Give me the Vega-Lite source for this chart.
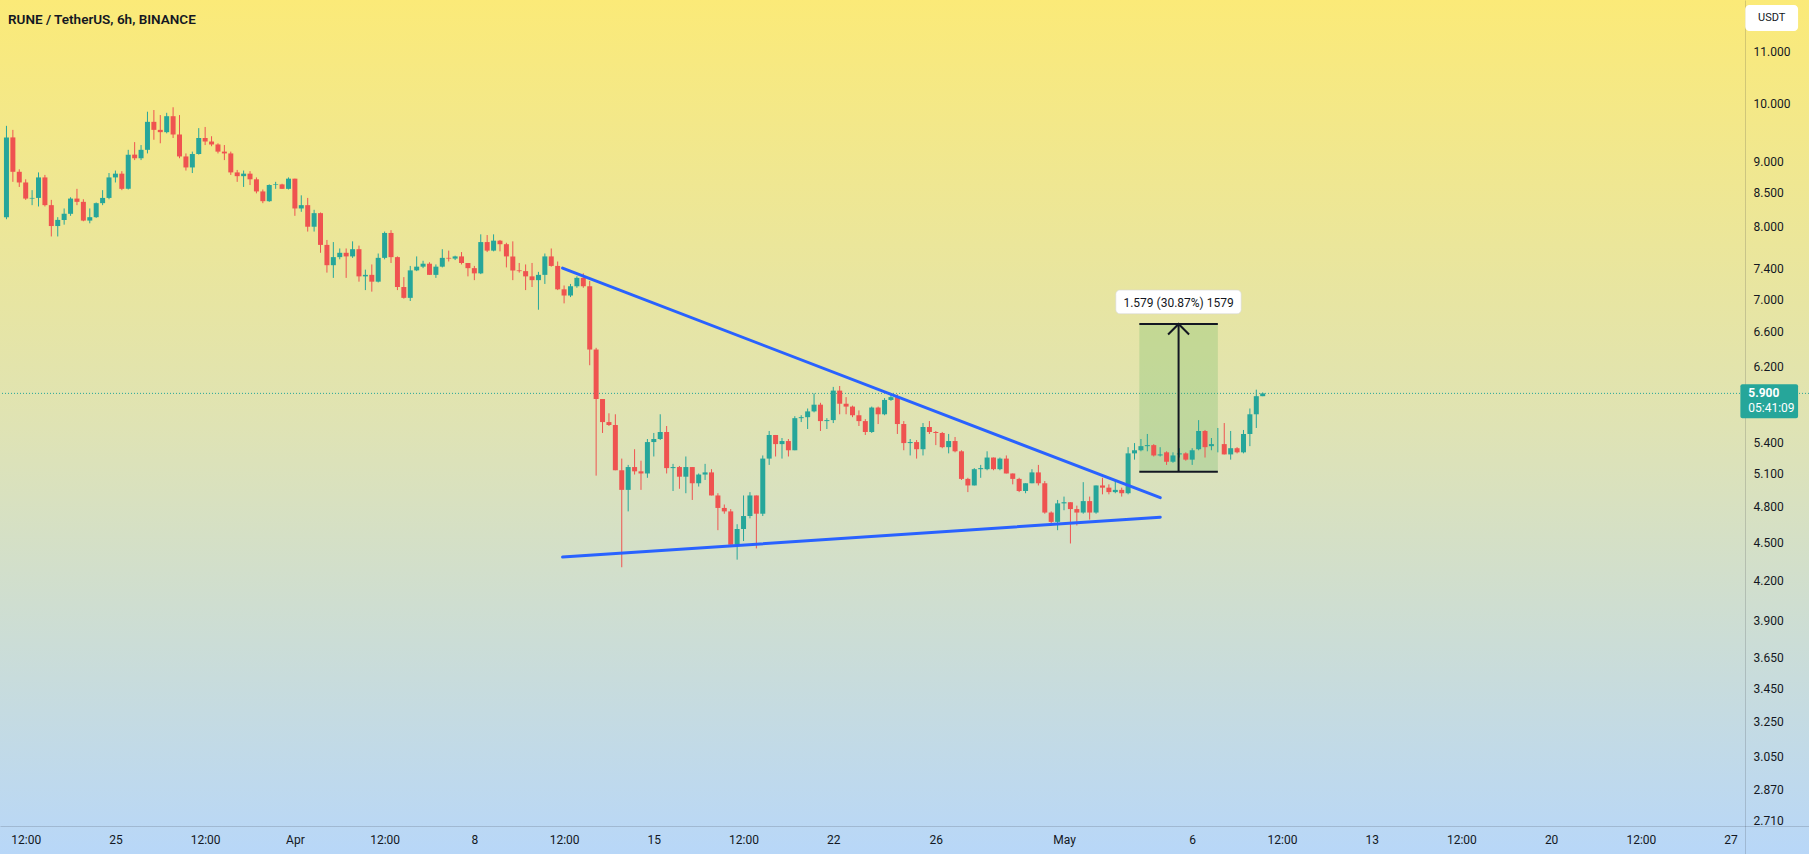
{
  "$schema": "https://vega.github.io/schema/vega-lite/v6.json",
  "width": 1809,
  "height": 854,
  "autosize": {"type": "none"},
  "padding": 0,
  "title": {"text": "RUNE / TetherUS, 6h, BINANCE", "anchor": "start", "frame": "group", "offset": -26, "dx": 8, "fontSize": 13.5, "fontWeight": 600, "color": "#131722", "font": "Roboto"},
  "config": {
    "font": "Roboto",
    "view": {"stroke": null, "fill": {"gradient": "linear", "x1": 0, "y1": 0, "x2": 0, "y2": 1, "stops": [{"offset": 0, "color": "#fbea78"}, {"offset": 0.5, "color": "#dfe3b4"}, {"offset": 1, "color": "#b8d7f8"}]}}
  },
  "datasets": {
    "candles": [
      {"t":"2024-03-20T18:00Z","o":8.13,"h":9.6,"l":8.1,"c":9.4},
      {"t":"2024-03-21T00:00Z","o":9.4,"h":9.53,"l":8.67,"c":8.83},
      {"t":"2024-03-21T06:00Z","o":8.83,"h":8.87,"l":8.59,"c":8.66},
      {"t":"2024-03-21T12:00Z","o":8.66,"h":8.71,"l":8.39,"c":8.41},
      {"t":"2024-03-21T18:00Z","o":8.41,"h":8.54,"l":8.31,"c":8.42},
      {"t":"2024-03-22T00:00Z","o":8.42,"h":8.82,"l":8.29,"c":8.74},
      {"t":"2024-03-22T06:00Z","o":8.74,"h":8.78,"l":8.29,"c":8.31},
      {"t":"2024-03-22T12:00Z","o":8.31,"h":8.39,"l":7.85,"c":8.0},
      {"t":"2024-03-22T18:00Z","o":8.0,"h":8.13,"l":7.85,"c":8.09},
      {"t":"2024-03-23T00:00Z","o":8.09,"h":8.26,"l":8.02,"c":8.18},
      {"t":"2024-03-23T06:00Z","o":8.18,"h":8.43,"l":8.15,"c":8.41},
      {"t":"2024-03-23T12:00Z","o":8.41,"h":8.56,"l":8.31,"c":8.36},
      {"t":"2024-03-23T18:00Z","o":8.36,"h":8.4,"l":8.07,"c":8.08},
      {"t":"2024-03-24T00:00Z","o":8.08,"h":8.26,"l":8.04,"c":8.13},
      {"t":"2024-03-24T06:00Z","o":8.13,"h":8.35,"l":8.12,"c":8.34},
      {"t":"2024-03-24T12:00Z","o":8.34,"h":8.54,"l":8.31,"c":8.42},
      {"t":"2024-03-24T18:00Z","o":8.42,"h":8.81,"l":8.4,"c":8.74},
      {"t":"2024-03-25T00:00Z","o":8.74,"h":8.85,"l":8.66,"c":8.8},
      {"t":"2024-03-25T06:00Z","o":8.8,"h":8.84,"l":8.54,"c":8.56},
      {"t":"2024-03-25T12:00Z","o":8.56,"h":9.19,"l":8.55,"c":9.11},
      {"t":"2024-03-25T18:00Z","o":9.11,"h":9.32,"l":9.02,"c":9.05},
      {"t":"2024-03-26T00:00Z","o":9.05,"h":9.27,"l":9.02,"c":9.19},
      {"t":"2024-03-26T06:00Z","o":9.19,"h":9.85,"l":9.13,"c":9.67},
      {"t":"2024-03-26T12:00Z","o":9.67,"h":9.88,"l":9.36,"c":9.53},
      {"t":"2024-03-26T18:00Z","o":9.53,"h":9.79,"l":9.3,"c":9.49},
      {"t":"2024-03-27T00:00Z","o":9.49,"h":9.83,"l":9.47,"c":9.77},
      {"t":"2024-03-27T06:00Z","o":9.77,"h":9.93,"l":9.39,"c":9.45},
      {"t":"2024-03-27T12:00Z","o":9.45,"h":9.79,"l":9.05,"c":9.08},
      {"t":"2024-03-27T18:00Z","o":9.08,"h":9.13,"l":8.85,"c":8.9},
      {"t":"2024-03-28T00:00Z","o":8.9,"h":9.16,"l":8.81,"c":9.12},
      {"t":"2024-03-28T06:00Z","o":9.12,"h":9.56,"l":9.11,"c":9.39},
      {"t":"2024-03-28T12:00Z","o":9.39,"h":9.58,"l":9.27,"c":9.33},
      {"t":"2024-03-28T18:00Z","o":9.33,"h":9.42,"l":9.25,"c":9.28},
      {"t":"2024-03-29T00:00Z","o":9.28,"h":9.3,"l":9.13,"c":9.16},
      {"t":"2024-03-29T06:00Z","o":9.16,"h":9.27,"l":9.02,"c":9.13},
      {"t":"2024-03-29T12:00Z","o":9.13,"h":9.16,"l":8.78,"c":8.82},
      {"t":"2024-03-29T18:00Z","o":8.82,"h":8.86,"l":8.67,"c":8.76},
      {"t":"2024-03-30T00:00Z","o":8.76,"h":8.85,"l":8.59,"c":8.8},
      {"t":"2024-03-30T06:00Z","o":8.8,"h":8.84,"l":8.62,"c":8.71},
      {"t":"2024-03-30T12:00Z","o":8.71,"h":8.74,"l":8.49,"c":8.52},
      {"t":"2024-03-30T18:00Z","o":8.52,"h":8.55,"l":8.34,"c":8.37},
      {"t":"2024-03-31T00:00Z","o":8.37,"h":8.63,"l":8.36,"c":8.62},
      {"t":"2024-03-31T06:00Z","o":8.62,"h":8.67,"l":8.56,"c":8.63},
      {"t":"2024-03-31T12:00Z","o":8.63,"h":8.64,"l":8.56,"c":8.56},
      {"t":"2024-03-31T18:00Z","o":8.56,"h":8.74,"l":8.55,"c":8.72},
      {"t":"2024-04-01T00:00Z","o":8.72,"h":8.72,"l":8.15,"c":8.26},
      {"t":"2024-04-01T06:00Z","o":8.26,"h":8.46,"l":8.21,"c":8.31},
      {"t":"2024-04-01T12:00Z","o":8.31,"h":8.42,"l":7.92,"c":7.99},
      {"t":"2024-04-01T18:00Z","o":7.99,"h":8.24,"l":7.92,"c":8.19},
      {"t":"2024-04-02T00:00Z","o":8.19,"h":8.2,"l":7.62,"c":7.73},
      {"t":"2024-04-02T06:00Z","o":7.73,"h":7.8,"l":7.35,"c":7.45},
      {"t":"2024-04-02T12:00Z","o":7.45,"h":7.77,"l":7.28,"c":7.56},
      {"t":"2024-04-02T18:00Z","o":7.56,"h":7.68,"l":7.53,"c":7.62},
      {"t":"2024-04-03T00:00Z","o":7.62,"h":7.68,"l":7.28,"c":7.57},
      {"t":"2024-04-03T06:00Z","o":7.57,"h":7.78,"l":7.55,"c":7.67},
      {"t":"2024-04-03T12:00Z","o":7.67,"h":7.72,"l":7.23,"c":7.3},
      {"t":"2024-04-03T18:00Z","o":7.3,"h":7.39,"l":7.12,"c":7.32},
      {"t":"2024-04-04T00:00Z","o":7.32,"h":7.46,"l":7.1,"c":7.23},
      {"t":"2024-04-04T06:00Z","o":7.23,"h":7.61,"l":7.22,"c":7.55},
      {"t":"2024-04-04T12:00Z","o":7.55,"h":7.92,"l":7.53,"c":7.9},
      {"t":"2024-04-04T18:00Z","o":7.9,"h":7.94,"l":7.48,"c":7.56},
      {"t":"2024-04-05T00:00Z","o":7.56,"h":7.57,"l":7.12,"c":7.16},
      {"t":"2024-04-05T06:00Z","o":7.16,"h":7.29,"l":7.01,"c":7.02},
      {"t":"2024-04-05T12:00Z","o":7.02,"h":7.44,"l":6.98,"c":7.38},
      {"t":"2024-04-05T18:00Z","o":7.38,"h":7.57,"l":7.37,"c":7.43},
      {"t":"2024-04-06T00:00Z","o":7.43,"h":7.51,"l":7.41,"c":7.47},
      {"t":"2024-04-06T06:00Z","o":7.47,"h":7.49,"l":7.32,"c":7.32},
      {"t":"2024-04-06T12:00Z","o":7.32,"h":7.46,"l":7.28,"c":7.43},
      {"t":"2024-04-06T18:00Z","o":7.43,"h":7.67,"l":7.42,"c":7.55},
      {"t":"2024-04-07T00:00Z","o":7.55,"h":7.65,"l":7.5,"c":7.54},
      {"t":"2024-04-07T06:00Z","o":7.54,"h":7.58,"l":7.52,"c":7.57},
      {"t":"2024-04-07T12:00Z","o":7.57,"h":7.63,"l":7.46,"c":7.48},
      {"t":"2024-04-07T18:00Z","o":7.48,"h":7.48,"l":7.3,"c":7.41},
      {"t":"2024-04-08T00:00Z","o":7.41,"h":7.44,"l":7.25,"c":7.34},
      {"t":"2024-04-08T06:00Z","o":7.34,"h":7.88,"l":7.33,"c":7.77},
      {"t":"2024-04-08T12:00Z","o":7.77,"h":7.87,"l":7.63,"c":7.65},
      {"t":"2024-04-08T18:00Z","o":7.65,"h":7.88,"l":7.64,"c":7.79},
      {"t":"2024-04-09T00:00Z","o":7.79,"h":7.8,"l":7.64,"c":7.74},
      {"t":"2024-04-09T06:00Z","o":7.74,"h":7.76,"l":7.42,"c":7.57},
      {"t":"2024-04-09T12:00Z","o":7.57,"h":7.78,"l":7.25,"c":7.38},
      {"t":"2024-04-09T18:00Z","o":7.38,"h":7.48,"l":7.35,"c":7.37},
      {"t":"2024-04-10T00:00Z","o":7.37,"h":7.46,"l":7.12,"c":7.3},
      {"t":"2024-04-10T06:00Z","o":7.3,"h":7.48,"l":7.16,"c":7.25},
      {"t":"2024-04-10T12:00Z","o":7.25,"h":7.36,"l":6.87,"c":7.32},
      {"t":"2024-04-10T18:00Z","o":7.32,"h":7.61,"l":7.2,"c":7.57},
      {"t":"2024-04-11T00:00Z","o":7.57,"h":7.68,"l":7.43,"c":7.44},
      {"t":"2024-04-11T06:00Z","o":7.44,"h":7.5,"l":7.12,"c":7.13},
      {"t":"2024-04-11T12:00Z","o":7.13,"h":7.18,"l":6.95,"c":7.05},
      {"t":"2024-04-11T18:00Z","o":7.05,"h":7.2,"l":7.03,"c":7.17},
      {"t":"2024-04-12T00:00Z","o":7.17,"h":7.3,"l":7.15,"c":7.28},
      {"t":"2024-04-12T06:00Z","o":7.28,"h":7.34,"l":7.15,"c":7.17},
      {"t":"2024-04-12T12:00Z","o":7.17,"h":7.24,"l":6.21,"c":6.39},
      {"t":"2024-04-12T18:00Z","o":6.39,"h":6.41,"l":5.08,"c":5.84},
      {"t":"2024-04-13T00:00Z","o":5.84,"h":5.84,"l":5.49,"c":5.6},
      {"t":"2024-04-13T06:00Z","o":5.6,"h":5.69,"l":5.56,"c":5.57},
      {"t":"2024-04-13T12:00Z","o":5.57,"h":5.68,"l":5.13,"c":5.13},
      {"t":"2024-04-13T18:00Z","o":5.13,"h":5.24,"l":4.3,"c":4.95},
      {"t":"2024-04-14T00:00Z","o":4.95,"h":5.18,"l":4.76,"c":5.16},
      {"t":"2024-04-14T06:00Z","o":5.16,"h":5.33,"l":5.09,"c":5.12},
      {"t":"2024-04-14T12:00Z","o":5.12,"h":5.22,"l":4.95,"c":5.1},
      {"t":"2024-04-14T18:00Z","o":5.1,"h":5.43,"l":5.06,"c":5.4},
      {"t":"2024-04-15T00:00Z","o":5.4,"h":5.49,"l":5.26,"c":5.43},
      {"t":"2024-04-15T06:00Z","o":5.43,"h":5.68,"l":5.42,"c":5.5},
      {"t":"2024-04-15T12:00Z","o":5.5,"h":5.56,"l":5.1,"c":5.15},
      {"t":"2024-04-15T18:00Z","o":5.15,"h":5.19,"l":4.94,"c":5.16},
      {"t":"2024-04-16T00:00Z","o":5.16,"h":5.17,"l":4.96,"c":5.07},
      {"t":"2024-04-16T06:00Z","o":5.07,"h":5.26,"l":4.92,"c":5.16},
      {"t":"2024-04-16T12:00Z","o":5.16,"h":5.16,"l":4.86,"c":5.01},
      {"t":"2024-04-16T18:00Z","o":5.01,"h":5.1,"l":4.98,"c":5.09},
      {"t":"2024-04-17T00:00Z","o":5.09,"h":5.19,"l":5.04,"c":5.11},
      {"t":"2024-04-17T06:00Z","o":5.11,"h":5.14,"l":4.9,"c":4.9},
      {"t":"2024-04-17T12:00Z","o":4.9,"h":4.92,"l":4.6,"c":4.79},
      {"t":"2024-04-17T18:00Z","o":4.79,"h":4.82,"l":4.74,"c":4.76},
      {"t":"2024-04-18T00:00Z","o":4.76,"h":4.78,"l":4.48,"c":4.48},
      {"t":"2024-04-18T06:00Z","o":4.48,"h":4.65,"l":4.36,"c":4.61},
      {"t":"2024-04-18T12:00Z","o":4.61,"h":4.9,"l":4.51,"c":4.72},
      {"t":"2024-04-18T18:00Z","o":4.72,"h":4.93,"l":4.7,"c":4.9},
      {"t":"2024-04-19T00:00Z","o":4.9,"h":4.9,"l":4.45,"c":4.74},
      {"t":"2024-04-19T06:00Z","o":4.74,"h":5.27,"l":4.72,"c":5.24},
      {"t":"2024-04-19T12:00Z","o":5.24,"h":5.51,"l":5.18,"c":5.47},
      {"t":"2024-04-19T18:00Z","o":5.47,"h":5.47,"l":5.26,"c":5.38},
      {"t":"2024-04-20T00:00Z","o":5.38,"h":5.44,"l":5.24,"c":5.41},
      {"t":"2024-04-20T06:00Z","o":5.41,"h":5.43,"l":5.26,"c":5.32},
      {"t":"2024-04-20T12:00Z","o":5.32,"h":5.66,"l":5.32,"c":5.64},
      {"t":"2024-04-20T18:00Z","o":5.64,"h":5.67,"l":5.6,"c":5.65},
      {"t":"2024-04-21T00:00Z","o":5.65,"h":5.74,"l":5.53,"c":5.71},
      {"t":"2024-04-21T06:00Z","o":5.71,"h":5.9,"l":5.7,"c":5.78},
      {"t":"2024-04-21T12:00Z","o":5.78,"h":5.8,"l":5.51,"c":5.61},
      {"t":"2024-04-21T18:00Z","o":5.61,"h":5.64,"l":5.53,"c":5.62},
      {"t":"2024-04-22T00:00Z","o":5.62,"h":5.97,"l":5.59,"c":5.93},
      {"t":"2024-04-22T06:00Z","o":5.93,"h":5.98,"l":5.68,"c":5.79},
      {"t":"2024-04-22T12:00Z","o":5.79,"h":5.86,"l":5.68,"c":5.76},
      {"t":"2024-04-22T18:00Z","o":5.76,"h":5.77,"l":5.65,"c":5.67},
      {"t":"2024-04-23T00:00Z","o":5.67,"h":5.72,"l":5.56,"c":5.61},
      {"t":"2024-04-23T06:00Z","o":5.61,"h":5.63,"l":5.47,"c":5.5},
      {"t":"2024-04-23T12:00Z","o":5.5,"h":5.76,"l":5.49,"c":5.75},
      {"t":"2024-04-23T18:00Z","o":5.75,"h":5.76,"l":5.58,"c":5.68},
      {"t":"2024-04-24T00:00Z","o":5.68,"h":5.85,"l":5.67,"c":5.83},
      {"t":"2024-04-24T06:00Z","o":5.83,"h":5.89,"l":5.82,"c":5.86},
      {"t":"2024-04-24T12:00Z","o":5.86,"h":5.89,"l":5.48,"c":5.58},
      {"t":"2024-04-24T18:00Z","o":5.58,"h":5.61,"l":5.32,"c":5.39},
      {"t":"2024-04-25T00:00Z","o":5.39,"h":5.43,"l":5.27,"c":5.4},
      {"t":"2024-04-25T06:00Z","o":5.4,"h":5.42,"l":5.24,"c":5.33},
      {"t":"2024-04-25T12:00Z","o":5.33,"h":5.59,"l":5.27,"c":5.55},
      {"t":"2024-04-25T18:00Z","o":5.55,"h":5.61,"l":5.48,"c":5.5},
      {"t":"2024-04-26T00:00Z","o":5.5,"h":5.51,"l":5.37,"c":5.49},
      {"t":"2024-04-26T06:00Z","o":5.49,"h":5.5,"l":5.34,"c":5.35},
      {"t":"2024-04-26T12:00Z","o":5.35,"h":5.48,"l":5.29,"c":5.41},
      {"t":"2024-04-26T18:00Z","o":5.41,"h":5.45,"l":5.3,"c":5.31},
      {"t":"2024-04-27T00:00Z","o":5.31,"h":5.32,"l":5.04,"c":5.05},
      {"t":"2024-04-27T06:00Z","o":5.05,"h":5.06,"l":4.93,"c":4.99},
      {"t":"2024-04-27T12:00Z","o":4.99,"h":5.15,"l":4.99,"c":5.14},
      {"t":"2024-04-27T18:00Z","o":5.14,"h":5.18,"l":5.06,"c":5.15},
      {"t":"2024-04-28T00:00Z","o":5.14,"h":5.31,"l":5.13,"c":5.25},
      {"t":"2024-04-28T06:00Z","o":5.25,"h":5.25,"l":5.13,"c":5.14},
      {"t":"2024-04-28T12:00Z","o":5.14,"h":5.25,"l":5.13,"c":5.24},
      {"t":"2024-04-28T18:00Z","o":5.24,"h":5.27,"l":5.1,"c":5.1},
      {"t":"2024-04-29T00:00Z","o":5.1,"h":5.1,"l":5.0,"c":5.05},
      {"t":"2024-04-29T06:00Z","o":5.05,"h":5.06,"l":4.93,"c":4.94},
      {"t":"2024-04-29T12:00Z","o":4.94,"h":5.01,"l":4.92,"c":5.01},
      {"t":"2024-04-29T18:00Z","o":5.01,"h":5.14,"l":5.01,"c":5.11},
      {"t":"2024-04-30T00:00Z","o":5.11,"h":5.18,"l":4.99,"c":5.01},
      {"t":"2024-04-30T06:00Z","o":5.01,"h":5.03,"l":4.74,"c":4.75},
      {"t":"2024-04-30T12:00Z","o":4.75,"h":4.76,"l":4.64,"c":4.67},
      {"t":"2024-04-30T18:00Z","o":4.67,"h":4.86,"l":4.6,"c":4.83},
      {"t":"2024-05-01T00:00Z","o":4.83,"h":4.89,"l":4.77,"c":4.84},
      {"t":"2024-05-01T06:00Z","o":4.84,"h":4.84,"l":4.49,"c":4.78},
      {"t":"2024-05-01T12:00Z","o":4.78,"h":4.81,"l":4.64,"c":4.75},
      {"t":"2024-05-01T18:00Z","o":4.75,"h":5.02,"l":4.74,"c":4.85},
      {"t":"2024-05-02T00:00Z","o":4.85,"h":4.89,"l":4.69,"c":4.75},
      {"t":"2024-05-02T06:00Z","o":4.75,"h":4.99,"l":4.74,"c":4.99},
      {"t":"2024-05-02T12:00Z","o":4.99,"h":5.06,"l":4.91,"c":4.97},
      {"t":"2024-05-02T18:00Z","o":4.97,"h":5.0,"l":4.91,"c":4.93},
      {"t":"2024-05-03T00:00Z","o":4.93,"h":5.04,"l":4.92,"c":4.95},
      {"t":"2024-05-03T06:00Z","o":4.95,"h":4.97,"l":4.89,"c":4.92},
      {"t":"2024-05-03T12:00Z","o":4.92,"h":5.35,"l":4.91,"c":5.29},
      {"t":"2024-05-03T18:00Z","o":5.29,"h":5.39,"l":5.23,"c":5.32},
      {"t":"2024-05-04T00:00Z","o":5.32,"h":5.43,"l":5.31,"c":5.36},
      {"t":"2024-05-04T06:00Z","o":5.36,"h":5.48,"l":5.31,"c":5.37},
      {"t":"2024-05-04T12:00Z","o":5.37,"h":5.38,"l":5.26,"c":5.27},
      {"t":"2024-05-04T18:00Z","o":5.27,"h":5.35,"l":5.26,"c":5.28},
      {"t":"2024-05-05T00:00Z","o":5.3,"h":5.31,"l":5.18,"c":5.21},
      {"t":"2024-05-05T06:00Z","o":5.21,"h":5.3,"l":5.2,"c":5.27},
      {"t":"2024-05-05T12:00Z","o":5.28,"h":5.34,"l":5.25,"c":5.29},
      {"t":"2024-05-05T18:00Z","o":5.29,"h":5.3,"l":5.22,"c":5.23},
      {"t":"2024-05-06T00:00Z","o":5.23,"h":5.34,"l":5.18,"c":5.32},
      {"t":"2024-05-06T06:00Z","o":5.33,"h":5.62,"l":5.32,"c":5.51},
      {"t":"2024-05-06T12:00Z","o":5.51,"h":5.52,"l":5.25,"c":5.35},
      {"t":"2024-05-06T18:00Z","o":5.36,"h":5.44,"l":5.32,"c":5.38},
      {"t":"2024-05-07T00:00Z","o":5.38,"h":5.54,"l":5.3,"c":5.38},
      {"t":"2024-05-07T06:00Z","o":5.38,"h":5.59,"l":5.28,"c":5.28},
      {"t":"2024-05-07T12:00Z","o":5.28,"h":5.51,"l":5.23,"c":5.34},
      {"t":"2024-05-07T18:00Z","o":5.34,"h":5.35,"l":5.29,"c":5.3},
      {"t":"2024-05-08T00:00Z","o":5.3,"h":5.52,"l":5.29,"c":5.48},
      {"t":"2024-05-08T06:00Z","o":5.48,"h":5.74,"l":5.36,"c":5.68},
      {"t":"2024-05-08T12:00Z","o":5.68,"h":5.94,"l":5.54,"c":5.87},
      {"t":"2024-05-08T18:00Z","o":5.87,"h":5.91,"l":5.87,"c":5.9}
    ],
    "trend": [
      {"g":"upper","t":"2024-04-11T10:35Z","p":7.41},
      {"g":"upper","t":"2024-05-04T18:05Z","p":4.88},
      {"g":"lower","t":"2024-04-11T10:35Z","p":4.38},
      {"g":"lower","t":"2024-05-04T18:05Z","p":4.71}
    ],
    "range": [
      {"t1":"2024-05-03T22:30Z","t2":"2024-05-07T00:00Z","tm":"2024-05-05T11:15Z","p1":5.115,"p2":6.694}
    ],
    "rangeEdges": [
      {"t1":"2024-05-03T22:30Z","t2":"2024-05-07T00:00Z","p":5.115},
      {"t1":"2024-05-03T22:30Z","t2":"2024-05-07T00:00Z","p":6.694}
    ],
    "rangeLabel": [
      {"t1":"2024-05-03T00:30Z","t2":"2024-05-07T21:50Z","tm":"2024-05-05T11:15Z","p1":6.82,"p2":7.12,"pm":6.96,"text":"1.579 (30.87%) 1579"}
    ],
    "currency": [
      {"t1":"2024-05-27T13:45Z","t2":"2024-05-29T15:10Z","tm":"2024-05-28T14:30Z","p1":11.41,"p2":11.96,"pm":11.68,"text":"USDT"}
    ],
    "lastPrice": [
      {"t1":"2024-05-27T09:10Z","t2":"2024-05-29T15:10Z","tx":"2024-05-27T16:35Z","p1":5.64,"p2":6.0,"price":5.9,"countdownAt":5.75,"label":"5.900","countdown":"05:41:09"}
    ]
  },
  "encoding": {
    "x": {
      "field": "t", "type": "temporal",
      "scale": {"type": "utc", "domain": [{"year":2024,"month":3,"date":20,"hours":16,"minutes":38,"utc":true},{"year":2024,"month":5,"date":29,"hours":20,"minutes":43,"utc":true}]},
      "axis": {
        "orient": "bottom", "offset": -28, "title": null, "grid": false, "ticks": false,
        "domainColor": "rgba(42,46,57,0.18)", "domainWidth": 1,
        "labelPadding": 8, "labelFontSize": 12, "labelColor": "#131722", "labelFont": "Roboto",
        "labelFlush": false, "labelOverlap": false,
        "values": [
          {"year":2024,"month":3,"date":21,"hours":12,"utc":true},
          {"year":2024,"month":3,"date":25,"utc":true},
          {"year":2024,"month":3,"date":28,"hours":12,"utc":true},
          {"year":2024,"month":4,"date":1,"utc":true},
          {"year":2024,"month":4,"date":4,"hours":12,"utc":true},
          {"year":2024,"month":4,"date":8,"utc":true},
          {"year":2024,"month":4,"date":11,"hours":12,"utc":true},
          {"year":2024,"month":4,"date":15,"utc":true},
          {"year":2024,"month":4,"date":18,"hours":12,"utc":true},
          {"year":2024,"month":4,"date":22,"utc":true},
          {"year":2024,"month":4,"date":26,"utc":true},
          {"year":2024,"month":5,"date":1,"utc":true},
          {"year":2024,"month":5,"date":6,"utc":true},
          {"year":2024,"month":5,"date":9,"hours":12,"utc":true},
          {"year":2024,"month":5,"date":13,"utc":true},
          {"year":2024,"month":5,"date":16,"hours":12,"utc":true},
          {"year":2024,"month":5,"date":20,"utc":true},
          {"year":2024,"month":5,"date":23,"hours":12,"utc":true},
          {"year":2024,"month":5,"date":27,"utc":true}
        ],
        "labelExpr": "utchours(datum.value) == 12 ? '12:00' : (utcdate(datum.value) == 1 ? utcFormat(datum.value, '%b') : utcFormat(datum.value, '%-d'))"
      }
    },
    "y": {
      "type": "quantitative",
      "scale": {"type": "log", "domain": [2.552, 12.07], "nice": false, "zero": false},
      "axis": {
        "orient": "right", "offset": -64, "title": null, "grid": false, "ticks": false,
        "domainColor": "rgba(42,46,57,0.18)", "domainWidth": 1,
        "labelPadding": 8, "labelFontSize": 12, "labelColor": "#131722", "labelFont": "Roboto",
        "labelFlush": false, "labelOverlap": false, "format": ".3f",
        "values": [11, 10, 9, 8.5, 8, 7.4, 7, 6.6, 6.2, 5.4, 5.1, 4.8, 4.5, 4.2, 3.9, 3.65, 3.45, 3.25, 3.05, 2.87, 2.71]
      }
    }
  },
  "layer": [
    {
      "data": {"name": "lastPrice"},
      "mark": {"type": "rule", "color": "#26a69a", "strokeWidth": 1, "strokeDash": [1, 2]},
      "encoding": {"x": null, "y": {"field": "price", "type": "quantitative"}}
    },
    {
      "data": {"name": "range"},
      "mark": {"type": "rect", "color": "#4caf50", "opacity": 0.22},
      "encoding": {
        "x": {"field": "t1", "type": "temporal"},
        "x2": {"field": "t2"},
        "y": {"field": "p1", "type": "quantitative"},
        "y2": {"field": "p2"}
      }
    },
    {
      "data": {"name": "candles"},
      "mark": {"type": "rule", "strokeWidth": 1},
      "encoding": {
        "y": {"field": "l", "type": "quantitative"},
        "y2": {"field": "h"},
        "color": {"condition": {"test": "datum.c >= datum.o", "value": "#26a69a"}, "value": "#ef5350"}
      }
    },
    {
      "data": {"name": "candles"},
      "mark": {"type": "bar", "size": 5, "minBandSize": 1},
      "encoding": {
        "y": {"field": "o", "type": "quantitative"},
        "y2": {"field": "c"},
        "color": {"condition": {"test": "datum.c >= datum.o", "value": "#26a69a"}, "value": "#ef5350"}
      }
    },
    {
      "data": {"name": "trend"},
      "mark": {"type": "line", "color": "#2962ff", "strokeWidth": 3, "strokeCap": "round"},
      "encoding": {
        "y": {"field": "p", "type": "quantitative"},
        "detail": {"field": "g"}
      }
    },
    {
      "data": {"name": "rangeEdges"},
      "mark": {"type": "rule", "color": "#131722", "strokeWidth": 2},
      "encoding": {
        "x": {"field": "t1", "type": "temporal"},
        "x2": {"field": "t2"},
        "y": {"field": "p", "type": "quantitative"}
      }
    },
    {
      "data": {"name": "range"},
      "mark": {"type": "rule", "color": "#131722", "strokeWidth": 2},
      "encoding": {
        "x": {"field": "tm", "type": "temporal"},
        "y": {"field": "p1", "type": "quantitative"},
        "y2": {"field": "p2"}
      }
    },
    {
      "data": {"name": "range"},
      "mark": {"type": "point", "shape": "M -1 1 L 0 0 L 1 1", "size": 441, "filled": false, "color": "#131722", "strokeWidth": 2, "opacity": 1},
      "encoding": {
        "x": {"field": "tm", "type": "temporal"},
        "y": {"field": "p2", "type": "quantitative"}
      }
    },
    {
      "data": {"name": "rangeLabel"},
      "mark": {"type": "rect", "color": "#ffffff", "cornerRadius": 4, "stroke": "#d6d8dd", "strokeWidth": 0.6},
      "encoding": {
        "x": {"field": "t1", "type": "temporal"},
        "x2": {"field": "t2"},
        "y": {"field": "p1", "type": "quantitative"},
        "y2": {"field": "p2"}
      }
    },
    {
      "data": {"name": "rangeLabel"},
      "mark": {"type": "text", "fontSize": 12, "color": "#131722", "align": "center", "baseline": "middle", "font": "Roboto"},
      "encoding": {
        "x": {"field": "tm", "type": "temporal"},
        "y": {"field": "pm", "type": "quantitative"},
        "text": {"field": "text"}
      }
    },
    {
      "data": {"name": "currency"},
      "mark": {"type": "rect", "color": "#ffffff", "cornerRadius": 4},
      "encoding": {
        "x": {"field": "t1", "type": "temporal"},
        "x2": {"field": "t2"},
        "y": {"field": "p1", "type": "quantitative"},
        "y2": {"field": "p2"}
      }
    },
    {
      "data": {"name": "currency"},
      "mark": {"type": "text", "fontSize": 11, "color": "#131722", "align": "center", "baseline": "middle", "font": "Roboto"},
      "encoding": {
        "x": {"field": "tm", "type": "temporal"},
        "y": {"field": "pm", "type": "quantitative"},
        "text": {"field": "text"}
      }
    },
    {
      "data": {"name": "lastPrice"},
      "mark": {"type": "rect", "color": "#26a69a", "cornerRadius": 2},
      "encoding": {
        "x": {"field": "t1", "type": "temporal"},
        "x2": {"field": "t2"},
        "y": {"field": "p1", "type": "quantitative"},
        "y2": {"field": "p2"}
      }
    },
    {
      "data": {"name": "lastPrice"},
      "mark": {"type": "text", "fontSize": 12, "fontWeight": "bold", "color": "#ffffff", "align": "left", "baseline": "middle", "font": "Roboto"},
      "encoding": {
        "x": {"field": "tx", "type": "temporal"},
        "y": {"field": "price", "type": "quantitative"},
        "text": {"field": "label"}
      }
    },
    {
      "data": {"name": "lastPrice"},
      "mark": {"type": "text", "fontSize": 12, "color": "#ffffff", "align": "left", "baseline": "middle", "font": "Roboto"},
      "encoding": {
        "x": {"field": "tx", "type": "temporal"},
        "y": {"field": "countdownAt", "type": "quantitative"},
        "text": {"field": "countdown"}
      }
    }
  ]
}
